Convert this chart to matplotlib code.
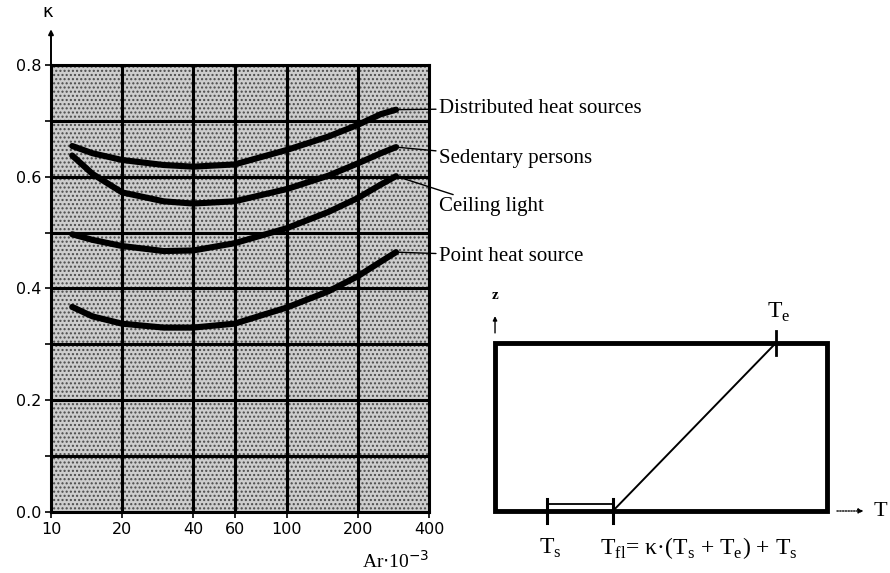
import numpy as np
import matplotlib
matplotlib.use("Agg")
import matplotlib.pyplot as plt
from matplotlib.patches import Rectangle

# Archimedes number (x 10^-3) sample points along each curve
ar = [12.3, 15, 20, 30, 40, 60, 100, 150, 200, 250, 290]

kappa_distributed = [0.655, 0.642, 0.630, 0.621, 0.618, 0.622, 0.648, 0.672, 0.693, 0.712, 0.720]
kappa_sedentary = [0.638, 0.605, 0.572, 0.556, 0.552, 0.556, 0.578, 0.602, 0.624, 0.642, 0.653]
kappa_ceiling = [0.497, 0.487, 0.476, 0.467, 0.468, 0.481, 0.508, 0.537, 0.562, 0.586, 0.601]
kappa_point = [0.367, 0.350, 0.337, 0.330, 0.330, 0.337, 0.366, 0.395, 0.422, 0.448, 0.465]

series = [
    ("Distributed heat sources", kappa_distributed, 0.723),
    ("Sedentary persons", kappa_sedentary, 0.633),
    ("Ceiling light", kappa_ceiling, 0.546),
    ("Point heat source", kappa_point, 0.458),
]

x_ticks = [10, 20, 40, 60, 100, 200, 400]
x_ticklabels = ["10", "20", "40", "60", "100", "200", "400"]
y_ticks = [0.0, 0.1, 0.2, 0.3, 0.4, 0.5, 0.6, 0.7, 0.8]
y_ticklabels = ["0.0", "", "0.2", "", "0.4", "", "0.6", "", "0.8"]

# schematic: temperature positions along the T axis (fraction of box width)
t_s, t_fl, t_e = 0.157, 0.355, 0.846

SERIF = "Liberation Serif"
SANS = "DejaVu Sans"

fig = plt.figure(figsize=(8.9, 5.73), dpi=100)
fig.patch.set_facecolor("white")

# ---------------- left: kappa vs Ar ----------------
ax = fig.add_axes([0.0573, 0.1065, 0.4247, 0.7801])
ax.set_xscale("log")
ax.set_xlim(10, 400)
ax.set_ylim(0.0, 0.8)
ax.set_facecolor("#cdcdcd")
ax.add_patch(Rectangle((0, 0), 1, 1, transform=ax.transAxes, facecolor="none",
                       edgecolor="#4a4a4a", hatch="....", linewidth=0, zorder=0.5))

for x in x_ticks[1:-1]:
    ax.axvline(x, color="black", lw=2.2, zorder=1)
for y in y_ticks[1:]:
    ax.axhline(y, color="black", lw=2.2, zorder=1)

for label, k, ty in series:
    ax.plot(ar, k, color="black", lw=4.4, solid_capstyle="round",
            solid_joinstyle="round", zorder=3)
    ax.annotate(label, xy=(ar[-1], k[-1]), xytext=(440, ty),
                textcoords="data", annotation_clip=False,
                fontsize=15, family=SERIF, va="center", ha="left",
                arrowprops=dict(arrowstyle="-", lw=1.0, color="black",
                                shrinkA=0, shrinkB=0))

for s in ["left", "bottom", "right", "top"]:
    ax.spines[s].set_linewidth(2.2)
    ax.spines[s].set_color("black")

ax.set_xticks(x_ticks)
ax.set_xticklabels(x_ticklabels, fontsize=11.5, family=SANS)
ax.xaxis.set_minor_locator(matplotlib.ticker.NullLocator())
ax.set_yticks(y_ticks)
ax.set_yticklabels(y_ticklabels, fontsize=11.5, family=SANS)
ax.tick_params(axis="both", direction="out", length=4, width=1.2, pad=3)

# y axis extension with arrowhead and kappa label
ax.annotate("", xy=(0, 1.08), xytext=(0, 1.0), xycoords="axes fraction",
            arrowprops=dict(arrowstyle="-|>", lw=1.4, color="black",
                            mutation_scale=7, shrinkA=0, shrinkB=0))
ax.text(-0.008, 1.118, "κ", transform=ax.transAxes, fontsize=13, family=SANS,
        ha="center", va="center")
ax.text(1.0, -0.11, r"Ar$\cdot$10$^{-3}$", transform=ax.transAxes,
        fontsize=14, family=SERIF, ha="right", va="center")

# ---------------- right: temperature schematic ----------------
bx = fig.add_axes([0.5562, 0.1082, 0.3730, 0.2932])
bx.set_xlim(0, 1)
bx.set_ylim(0, 1)
bx.axis("off")
bx.add_patch(Rectangle((0, 0), 1, 1, fill=False, lw=3.5, edgecolor="black",
                       clip_on=False, zorder=2))
bx.plot([t_fl, t_e], [0, 1], color="black", lw=1.4, clip_on=False, zorder=3)
bx.plot([t_s, t_fl], [0.04, 0.04], color="black", lw=1.3, clip_on=False, zorder=3)
for t in (t_s, t_fl):
    bx.plot([t, t], [-0.07, 0.07], color="black", lw=2.2, clip_on=False, zorder=4)
bx.plot([t_e, t_e], [0.93, 1.07], color="black", lw=2.0, clip_on=False, zorder=4)

# axis arrows
bx.annotate("", xy=(1.11, 0), xytext=(1.03, 0), xycoords="data",
            arrowprops=dict(arrowstyle="-|>", lw=1.0, ls=(0, (1, 1)), color="black",
                            mutation_scale=7, shrinkA=0, shrinkB=0),
            annotation_clip=False)
bx.text(1.14, 0, "T", fontsize=16, family=SERIF, va="center", ha="left")
bx.annotate("", xy=(0, 1.16), xytext=(0, 1.06), xycoords="data",
            arrowprops=dict(arrowstyle="-|>", lw=1.0, color="black",
                            mutation_scale=6, shrinkA=0, shrinkB=0),
            annotation_clip=False)
bx.text(0.0, 1.28, "z", fontsize=11, family=SERIF, va="center", ha="center",
        fontweight="bold")
bx.text(t_e + 0.01, 1.18, r"T$_{\mathregular{e}}$", fontsize=17, family=SERIF,
        va="center", ha="center")
bx.text(t_s + 0.01, -0.22, r"T$_{\mathregular{s}}$", fontsize=17, family=SERIF,
        va="center", ha="center")
bx.text(t_fl - 0.04, -0.22,
        r"T$_{\mathregular{fl}}$= κ·(T$_{\mathregular{s}}$ + T$_{\mathregular{e}}$) + T$_{\mathregular{s}}$",
        fontsize=17, family=SERIF, va="center", ha="left")

fig.savefig("out.png", dpi=100)
